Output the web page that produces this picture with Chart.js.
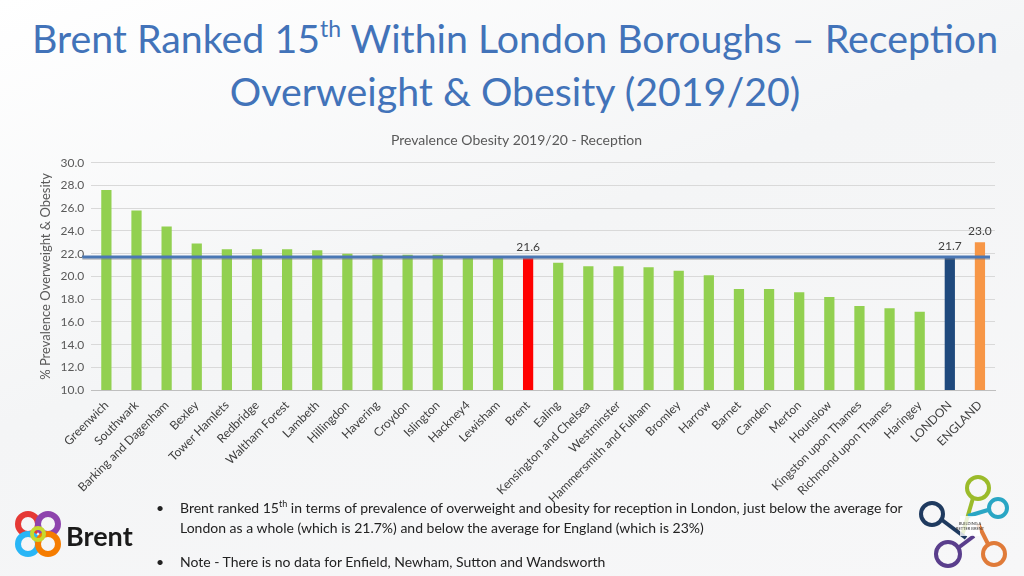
<!DOCTYPE html>
<html>
<head>
<meta charset="utf-8">
<script src="https://cdn.jsdelivr.net/npm/chart.js@4.4.1/dist/chart.umd.min.js"></script>
<style>
  html, body { margin: 0; padding: 0; }
  body {
    width: 1024px; height: 576px; overflow: hidden; position: relative;
    background: linear-gradient(160deg, #ffffff 0%, #f4f5f6 45%, #f7f7f8 100%);
    font-family: Lato, "Open Sans", sans-serif;
  }
  #title {
    position: absolute; left: 0; top: 11px; width: 1030px; text-align: center;
    color: #4273b9; font-size: 39.3px; line-height: 53px;
  }
  #title sup { font-size: 23px; vertical-align: 16px; line-height: 0; }
  #wrap { position: absolute; left: 0; top: 126px; width: 1024px; height: 380px; }
  .bullets { position: absolute; left: 156px; top: 498px; width: 760px; font-size: 14px; color: #222; line-height: 20px; }
  .bullets div { position: relative; padding-left: 24px; }
  .bullets div::before { content: "\2022"; position: absolute; left: 0; }
  .bullets sup { font-size: 9px; line-height: 0; }
  #brent { position: absolute; left: 14px; top: 510px; }
  #bab { position: absolute; left: 918px; top: 474px; }
</style>
</head>
<body>
<div id="title">Brent Ranked 15<sup>th</sup> Within London Boroughs – Reception<br>Overweight &amp; Obesity (2019/20)</div>
<div id="wrap"><canvas id="myChart"></canvas></div>

<div class="bullets">
  <div>Brent ranked 15<sup>th</sup> in terms of prevalence of overweight and obesity for reception in London, just below the average for London as a whole (which is 21.7%) and below the average for England (which is 23%)</div>
  <div style="margin-top:14px">Note - There is no data for Enfield, Newham, Sutton and Wandsworth</div>
</div>

<svg id="brent" width="130" height="52" viewBox="0 0 130 52">
  <circle cx="14" cy="14" r="10" fill="none" stroke="#e53935" stroke-width="6"/>
  <circle cx="34" cy="14" r="10" fill="none" stroke="#8e44ad" stroke-width="6"/>
  <circle cx="14" cy="34" r="10" fill="none" stroke="#29b6f6" stroke-width="6"/>
  <circle cx="34" cy="34" r="10" fill="none" stroke="#f57c00" stroke-width="6"/>
  <circle cx="24" cy="24" r="6" fill="none" stroke="#c6d82f" stroke-width="4"/>
  <text x="52" y="36" font-family="Lato, sans-serif" font-weight="bold" font-size="27" fill="#1a1a1a">Brent</text>
</svg>

<svg id="bab" width="100" height="100" viewBox="0 0 100 100">
  <g fill="none" stroke-width="4">
    <circle cx="60" cy="14" r="11" stroke="#9bbb2a"/>
    <line x1="55" y1="24" x2="44" y2="62" stroke="#9bbb2a"/>
    <circle cx="14" cy="40" r="11" stroke="#1f3a5f"/>
    <line x1="24" y1="46" x2="48" y2="64" stroke="#1f3a5f"/>
    <circle cx="80" cy="34" r="9" stroke="#2aa6c4"/>
    <line x1="70" y1="36" x2="50" y2="42" stroke="#2aa6c4"/>
    <circle cx="30" cy="80" r="12" stroke="#5a3e8c"/>
    <line x1="40" y1="74" x2="56" y2="62" stroke="#5a3e8c"/>
    <circle cx="76" cy="80" r="11" stroke="#e07b39"/>
    <line x1="70" y1="70" x2="60" y2="50" stroke="#e07b39"/>
  </g>
  <rect x="42" y="42" width="20" height="20" fill="#fff" opacity="0.8"/>
  <text x="52" y="51" font-size="4" text-anchor="middle" font-family="Lato" fill="#333">BUILDING A</text>
  <text x="52" y="56" font-size="4" text-anchor="middle" font-family="Lato" fill="#333">BETTER BRENT</text>
</svg>

<script>
// boroughs in rank order, then the London and England averages
const boroughs = ['Greenwich', 'Southwark', 'Barking and Dagenham', 'Bexley', 'Tower Hamlets',
  'Redbridge', 'Waltham Forest', 'Lambeth', 'Hillingdon', 'Havering', 'Croydon', 'Islington',
  'Hackney4', 'Lewisham', 'Brent', 'Ealing', 'Kensington and Chelsea', 'Westminster',
  'Hammersmith and Fulham', 'Bromley', 'Harrow', 'Barnet', 'Camden', 'Merton', 'Hounslow',
  'Kingston upon Thames', 'Richmond upon Thames', 'Haringey', 'LONDON', 'ENGLAND'];

const prevalence = [27.6, 25.8, 24.4, 22.9, 22.4, 22.4, 22.4, 22.3, 22.0, 21.9, 21.9, 21.9,
  21.8, 21.7, 21.6, 21.2, 20.9, 20.9, 20.8, 20.5, 20.1, 18.9, 18.9, 18.6, 18.2, 17.4, 17.2, 16.9,
  21.7, 23.0];

const londonAverage = 21.7;
const labelledBars = ['Brent', 'LONDON', 'ENGLAND'];
const yTicks = { min: 10, max: 30, step: 2 };

function barColour(name) {
  if (name === 'Brent') return '#ff0000';
  if (name === 'LONDON') return '#1f497d';
  if (name === 'ENGLAND') return '#f79646';
  return '#92d050';
}

// the London average line runs across the whole plot, over the bars
const averageLine = {
  id: 'averageLine',
  afterDatasetsDraw(chart) {
    const ctx = chart.ctx;
    const y = chart.scales.y.getPixelForValue(londonAverage);
    ctx.save();
    ctx.strokeStyle = 'rgba(120,120,120,0.35)';
    ctx.lineWidth = 2;
    ctx.beginPath();
    ctx.moveTo(chart.chartArea.left - 9, y + 2);
    ctx.lineTo(chart.chartArea.right - 5, y + 2);
    ctx.stroke();
    ctx.strokeStyle = '#4a77b4';
    ctx.lineWidth = 3;
    ctx.beginPath();
    ctx.moveTo(chart.chartArea.left - 9, y);
    ctx.lineTo(chart.chartArea.right - 5, y);
    ctx.stroke();
    ctx.restore();
  }
};

const valueLabels = {
  id: 'valueLabels',
  afterDraw(chart) {
    const ctx = chart.ctx;
    const meta = chart.getDatasetMeta(0);
    ctx.save();
    ctx.font = '12px Lato, sans-serif';
    ctx.fillStyle = '#404040';
    ctx.textAlign = 'center';
    ctx.textBaseline = 'bottom';
    boroughs.forEach(function (name, i) {
      if (labelledBars.indexOf(name) < 0) return;
      const bar = meta.data[i];
      ctx.fillText(prevalence[i].toFixed(1), bar.x, bar.y - 5);
    });
    ctx.restore();
  }
};

var ctx = document.getElementById('myChart').getContext('2d');
var myChart = new Chart(ctx, {
  type: 'bar',
  data: {
    labels: boroughs,
    datasets: [{
      label: 'Prevalence',
      data: prevalence,
      backgroundColor: boroughs.map(barColour),
      barPercentage: 0.34,
      categoryPercentage: 1
    }]
  },
  options: {
    responsive: true,
    maintainAspectRatio: false,
    animation: false,
    layout: { padding: { left: 38, right: 29, top: 6, bottom: 0 } },
    plugins: {
      legend: { display: false },
      tooltip: { enabled: false },
      title: {
        display: true,
        text: 'Prevalence Obesity 2019/20 - Reception',
        color: '#595959',
        font: { family: 'Lato', size: 14, weight: 'normal' },
        padding: { top: 0, bottom: 14 }
      }
    },
    scales: {
      x: {
        grid: { display: false },
        border: { color: '#bfbfbf' },
        ticks: {
          color: '#404040',
          font: { family: 'Lato', size: 12 },
          minRotation: 45,
          maxRotation: 45,
          autoSkip: false,
          padding: 0
        }
      },
      y: {
        min: yTicks.min,
        max: yTicks.max,
        border: { display: false },
        grid: { color: '#d9d9d9', drawTicks: false },
        ticks: {
          stepSize: yTicks.step,
          color: '#595959',
          font: { family: 'Lato', size: 12 },
          padding: 7,
          callback: function (v) { return v.toFixed(1); }
        },
        title: {
          display: true,
          text: '% Prevalence Overweight & Obesity',
          color: '#595959',
          font: { family: 'Lato', size: 13 },
          padding: { top: 0, bottom: 0 }
        }
      }
    }
  },
  plugins: [averageLine, valueLabels]
});
</script>
</body>
</html>
